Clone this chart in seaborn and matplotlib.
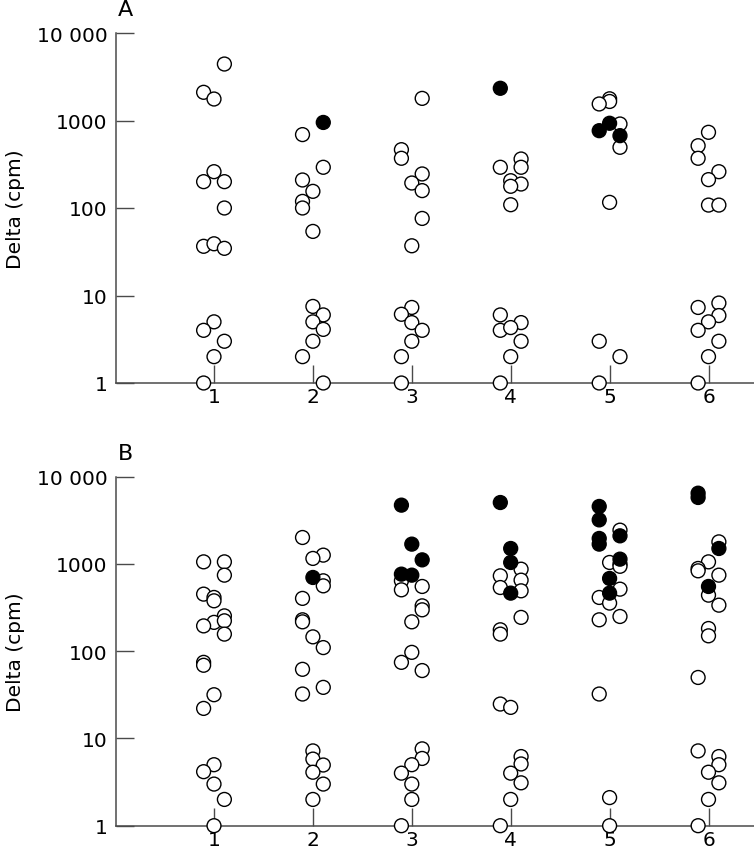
import numpy as np
import pandas as pd
import matplotlib
matplotlib.use("Agg")
import matplotlib.pyplot as plt
import seaborn as sns
from matplotlib.ticker import FixedLocator, FixedFormatter, NullLocator

# ---------------- data ----------------
GROUPS = [1, 2, 3, 4, 5, 6]
YTICKS = [1, 10, 100, 1000, 10000]
YTICK_LABELS = ["1", "10", "100", "1000", "10 000"]

# panel A, one list per group: delta (cpm), lane (-1 left, 0 centre, +1 right), solid marker
A_DELTA = [
    [4420, 2100, 1760, 260, 200, 200, 100, 36.5, 39, 34.6, 5, 4, 3, 2, 1],
    [950, 690, 292, 209, 155, 119, 100, 54, 7.5, 6, 5, 4.1, 3, 2, 1],
    [1790, 464, 370, 245, 193, 158, 76, 37, 7.3, 6.1, 4.9, 4, 3, 2, 1],
    [2335, 363, 292, 292, 205, 188, 177, 109, 6, 4.9, 4, 4.3, 3, 2, 1],
    [1770, 1650, 1545, 912, 930, 765, 671, 494, 116, 3, 2, 1],
    [733, 515, 370, 260, 211, 108, 108, 8.2, 7.3, 5.9, 5, 4, 3, 2, 1],
]
A_LANE = [
    [1, -1, 0, 0, -1, 1, 1, -1, 0, 1, 0, -1, 1, 0, -1],
    [1, -1, 1, -1, 0, -1, -1, 0, 0, 1, 0, 1, 0, -1, 1],
    [1, -1, -1, 1, 0, 1, 1, 0, 0, -1, 0, 1, 0, -1, -1],
    [-1, 1, -1, 1, 0, 1, 0, 0, -1, 1, -1, 0, 1, 0, -1],
    [0, 0, -1, 1, 0, -1, 1, 1, 0, -1, 1, -1],
    [0, -1, -1, 1, 0, 0, 1, 1, -1, 1, 0, -1, 1, 0, -1],
]
A_SOLID = [
    [0, 0, 0, 0, 0, 0, 0, 0, 0, 0, 0, 0, 0, 0, 0],
    [1, 0, 0, 0, 0, 0, 0, 0, 0, 0, 0, 0, 0, 0, 0],
    [0, 0, 0, 0, 0, 0, 0, 0, 0, 0, 0, 0, 0, 0, 0],
    [1, 0, 0, 0, 0, 0, 0, 0, 0, 0, 0, 0, 0, 0, 0],
    [0, 0, 0, 0, 1, 1, 1, 0, 0, 0, 0, 0],
    [0, 0, 0, 0, 0, 0, 0, 0, 0, 0, 0, 0, 0, 0, 0],
]

# panel B
B_DELTA = [
    [1057, 1057, 744, 451, 413, 378, 254, 214, 223, 195, 157, 74.5, 69, 31.7, 22.1, 5, 4.16, 3, 2, 1],
    [2010, 1262, 1157, 700, 641, 561, 403, 229, 217, 146, 110, 62, 38.5, 32.3, 7.2, 5.8, 4.96, 4.1, 3, 2],
    [4720, 1687, 1114, 764, 744, 641, 505, 552, 331, 298, 217, 97, 74.5, 60, 7.6, 5.9, 5, 4, 3, 2, 1],
    [5060, 1504, 1040, 871, 731, 652, 537, 492, 463, 244, 176, 157, 24.8, 22.7, 6.2, 5.1, 4, 3.1, 2, 1],
    [4560, 3200, 2440, 2100, 1960, 1687, 1135, 1040, 1000, 940, 682, 514, 463, 413, 356, 250, 229, 32.3, 2.1, 1],
    [6470, 5780, 1791, 1504, 1057, 888, 834, 744, 552, 439, 337, 182, 150, 50, 7.2, 6.2, 5, 4.1, 3.1, 2, 1],
]
B_LANE = [
    [-1, 1, 1, -1, 0, 0, 1, 0, 1, -1, 1, -1, -1, 0, -1, 0, -1, 0, 1, 0],
    [-1, 1, 0, 0, 1, 1, -1, -1, -1, 0, 1, -1, 1, -1, 0, 0, 1, 0, 1, 0],
    [-1, 0, 1, -1, 0, -1, -1, 1, 1, 1, 0, 0, -1, 1, 1, 1, 0, -1, 0, 0, -1],
    [-1, 0, 0, 1, -1, 1, -1, 1, 0, 1, -1, -1, -1, 0, 1, 1, 0, 1, 0, -1],
    [-1, -1, 1, 1, -1, -1, 1, 0, 1, 1, 0, 1, 0, -1, 0, 1, -1, -1, 0, 0],
    [-1, -1, 1, 1, 0, -1, -1, 1, 0, 0, 1, 0, 0, -1, -1, 1, 1, 0, 1, 0, -1],
]
B_SOLID = [
    [0, 0, 0, 0, 0, 0, 0, 0, 0, 0, 0, 0, 0, 0, 0, 0, 0, 0, 0, 0],
    [0, 0, 0, 1, 0, 0, 0, 0, 0, 0, 0, 0, 0, 0, 0, 0, 0, 0, 0, 0],
    [1, 1, 1, 1, 1, 0, 0, 0, 0, 0, 0, 0, 0, 0, 0, 0, 0, 0, 0, 0, 0],
    [1, 1, 1, 0, 0, 0, 0, 0, 1, 0, 0, 0, 0, 0, 0, 0, 0, 0, 0, 0],
    [1, 1, 0, 1, 1, 1, 1, 0, 0, 0, 1, 0, 1, 0, 0, 0, 0, 0, 0, 0],
    [1, 1, 0, 1, 0, 0, 0, 0, 1, 0, 0, 0, 0, 0, 0, 0, 0, 0, 0, 0, 0],
]

LANE_STEP = 0.105
INK = "#4a4a4a"


def make_frame(delta, lane, solid):
    rows = []
    for g, d_list, l_list, s_list in zip(GROUPS, delta, lane, solid):
        for d, l, s in zip(d_list, l_list, s_list):
            rows.append({"group": g, "delta": d, "lane": l, "solid": s})
    df = pd.DataFrame(rows)
    df["x"] = df["group"] + df["lane"] * LANE_STEP
    # open circles first so the filled ones sit on top
    return df.sort_values("solid", kind="stable")


def draw_panel(ax, df, letter):
    sns.scatterplot(data=df, x="x", y="delta", hue="solid",
                    palette={0: "white", 1: "black"}, edgecolor="black",
                    linewidth=1.0, s=100, legend=False, clip_on=False,
                    zorder=3, ax=ax)
    ax.set_yscale("log")
    ax.set_ylim(1, 10000)
    ax.set_xlim(1 - 98 / 98.9, 1 + 540 / 98.9)
    ax.yaxis.set_major_locator(FixedLocator(YTICKS))
    ax.yaxis.set_major_formatter(FixedFormatter(YTICK_LABELS))
    ax.yaxis.set_minor_locator(NullLocator())
    ax.set_xticks(GROUPS)
    ax.set_xticklabels([str(g) for g in GROUPS])
    ax.set_xlabel("")
    ax.set_ylabel("Delta (cpm)", fontsize=14.5, color="black")
    ax.yaxis.set_label_coords(-0.143, 0.5)
    ax.tick_params(axis="y", direction="in", length=13, width=1.0, color=INK,
                   labelsize=14.5, labelcolor="black", pad=6)
    ax.tick_params(axis="x", direction="in", length=13, width=1.0, color=INK,
                   labelsize=14.5, labelcolor="black", pad=3)
    for side in ["top", "right"]:
        ax.spines[side].set_visible(False)
    for side in ["left", "bottom"]:
        ax.spines[side].set_color(INK)
        ax.spines[side].set_linewidth(1.1)
    ax.text(0.003, 1.04, letter, transform=ax.transAxes, fontsize=16,
            color="black", ha="left", va="bottom")


def main():
    sns.set_style("ticks")
    plt.rcParams["font.family"] = ["DejaVu Sans"]

    fig = plt.figure(figsize=(7.54, 8.53), dpi=100)
    ax_a = fig.add_axes([116 / 754, 1 - 384 / 853, 638 / 754, 350 / 853])
    ax_b = fig.add_axes([116 / 754, 1 - 826.7 / 853, 638 / 754, 349 / 853])

    draw_panel(ax_a, make_frame(A_DELTA, A_LANE, A_SOLID), "A")
    draw_panel(ax_b, make_frame(B_DELTA, B_LANE, B_SOLID), "B")

    fig.savefig("out.png", dpi=100)


if __name__ == "__main__":
    main()
